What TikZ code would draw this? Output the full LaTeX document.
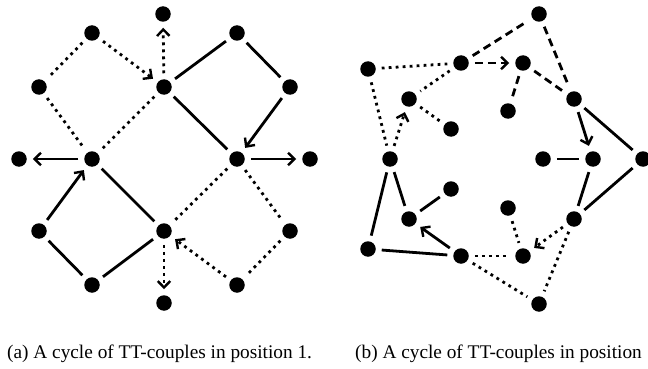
\documentclass[tikz,border=0pt]{standalone}
\usepackage{fontspec}
\setmainfont{Liberation Serif}
\usetikzlibrary{arrows.meta}
\begin{document}
\begin{tikzpicture}[x=1pt,y=-1pt,
  dot/.style={circle,fill=black,inner sep=0pt,minimum size=15.5pt,outer sep=6pt},
  sl/.style={line width=2.8pt},
  dt/.style={line width=2.8pt,dash pattern=on 2.8pt off 4.2pt},
  ds/.style={line width=2.8pt,dash pattern=on 8pt off 5pt},
  ar/.style={-{Straight Barb[length=6.5pt,width=12.5pt,line width=2.4pt]}},
  captxt/.style={anchor=base west,inner sep=0pt,font=\fontsize{19.3}{21}\selectfont}]
\useasboundingbox (0,0) rectangle (648,369);
% ---------- (a) ----------
\node[dot] (top) at (163,14) {};
\node[dot] (A) at (92,33) {};
\node[dot] (B) at (237,33) {};
\node[dot] (C) at (39,87) {};
\node[dot] (D) at (164,87) {};
\node[dot] (E) at (290,87) {};
\node[dot] (FL) at (19,159) {};
\node[dot] (F) at (92,159) {};
\node[dot] (G) at (237,159) {};
\node[dot] (FR) at (310,159) {};
\node[dot] (H) at (39,231) {};
\node[dot] (I) at (164,231) {};
\node[dot] (J) at (290,231) {};
\node[dot] (K) at (92,285) {};
\node[dot] (L) at (237,285) {};
\node[dot] (bot) at (164,303) {};
\draw[dt,ar] (A) -- (D);
\draw[dt] (A) -- (C);
\draw[dt] (C) -- (F);
\draw[dt] (D) -- (F);
\draw[dt,ar] (D) -- (top);
\draw[sl] (D) -- (B);
\draw[sl] (B) -- (E);
\draw[sl,ar] (E) -- (G);
\draw[sl] (D) -- (G);
\draw[sl,ar] (G) -- (FR);
\draw[sl,ar] (F) -- (FL);
\draw[sl,ar] (H) -- (F);
\draw[sl] (F) -- (I);
\draw[sl] (H) -- (K);
\draw[sl] (K) -- (I);
\draw[dt] (G) -- (I);
\draw[dt] (G) -- (J);
\draw[dt] (J) -- (L);
\draw[dt,ar] (L) -- (I);
\draw[dt,ar] (I) -- (bot);
% ---------- (b) ----------
\node[dot] (p1) at (539,14) {};
\node[dot] (p2) at (368,69) {};
\node[dot] (p3) at (461,63) {};
\node[dot] (p4) at (523,63) {};
\node[dot] (p5) at (409,99) {};
\node[dot] (p6) at (574,99) {};
\node[dot] (p7) at (508,111) {};
\node[dot] (p8) at (451,129) {};
\node[dot] (p9) at (390,159) {};
\node[dot] (p10) at (543,159) {};
\node[dot] (p11) at (593,159) {};
\node[dot] (p12) at (643,159) {};
\node[dot] (p13) at (451,189) {};
\node[dot] (p14) at (508,208) {};
\node[dot] (p15) at (409,219) {};
\node[dot] (p16) at (574,219) {};
\node[dot] (p17) at (368,249) {};
\node[dot] (p18) at (461,256) {};
\node[dot] (p19) at (523,256) {};
\node[dot] (p20) at (539,304) {};
\draw[dt] (p2) -- (p3);
\draw[ds] (p3) -- (p1);
\draw[ds] (p1) -- (p6);
\draw[ds,ar] (p3) -- (p4);
\draw[ds] (p4) -- (p6);
\draw[ds] (p4) -- (p7);
\draw[dt] (p2) -- (p9);
\draw[dt] (p3) -- (p5);
\draw[dt] (p5) -- (p8);
\draw[dt,ar] (p9) -- (p5);
\draw[sl,ar] (p6) -- (p11);
\draw[sl] (p6) -- (p12);
\draw[sl] (p10) -- (p11);
\draw[sl] (p11) -- (p16);
\draw[sl] (p12) -- (p16);
\draw[sl] (p9) -- (p17);
\draw[sl] (p9) -- (p15);
\draw[sl] (p15) -- (p13);
\draw[sl,ar] (p18) -- (p15);
\draw[sl] (p17) -- (p18);
\draw[dt] (p18) -- (p19);
\draw[dt] (p14) -- (p19);
\draw[dt,ar] (p16) -- (p19);
\draw[dt] (p16) -- (p20);
\draw[dt] (p18) -- (p20);
% ---------- captions ----------
\node[captxt] (capa) at (7,358) {(a) A cycle of TT-couples in position 1.};
\node[captxt] (capb) at (355,358) {(b) A cycle of TT-couples in position};
\end{tikzpicture}
\end{document}
